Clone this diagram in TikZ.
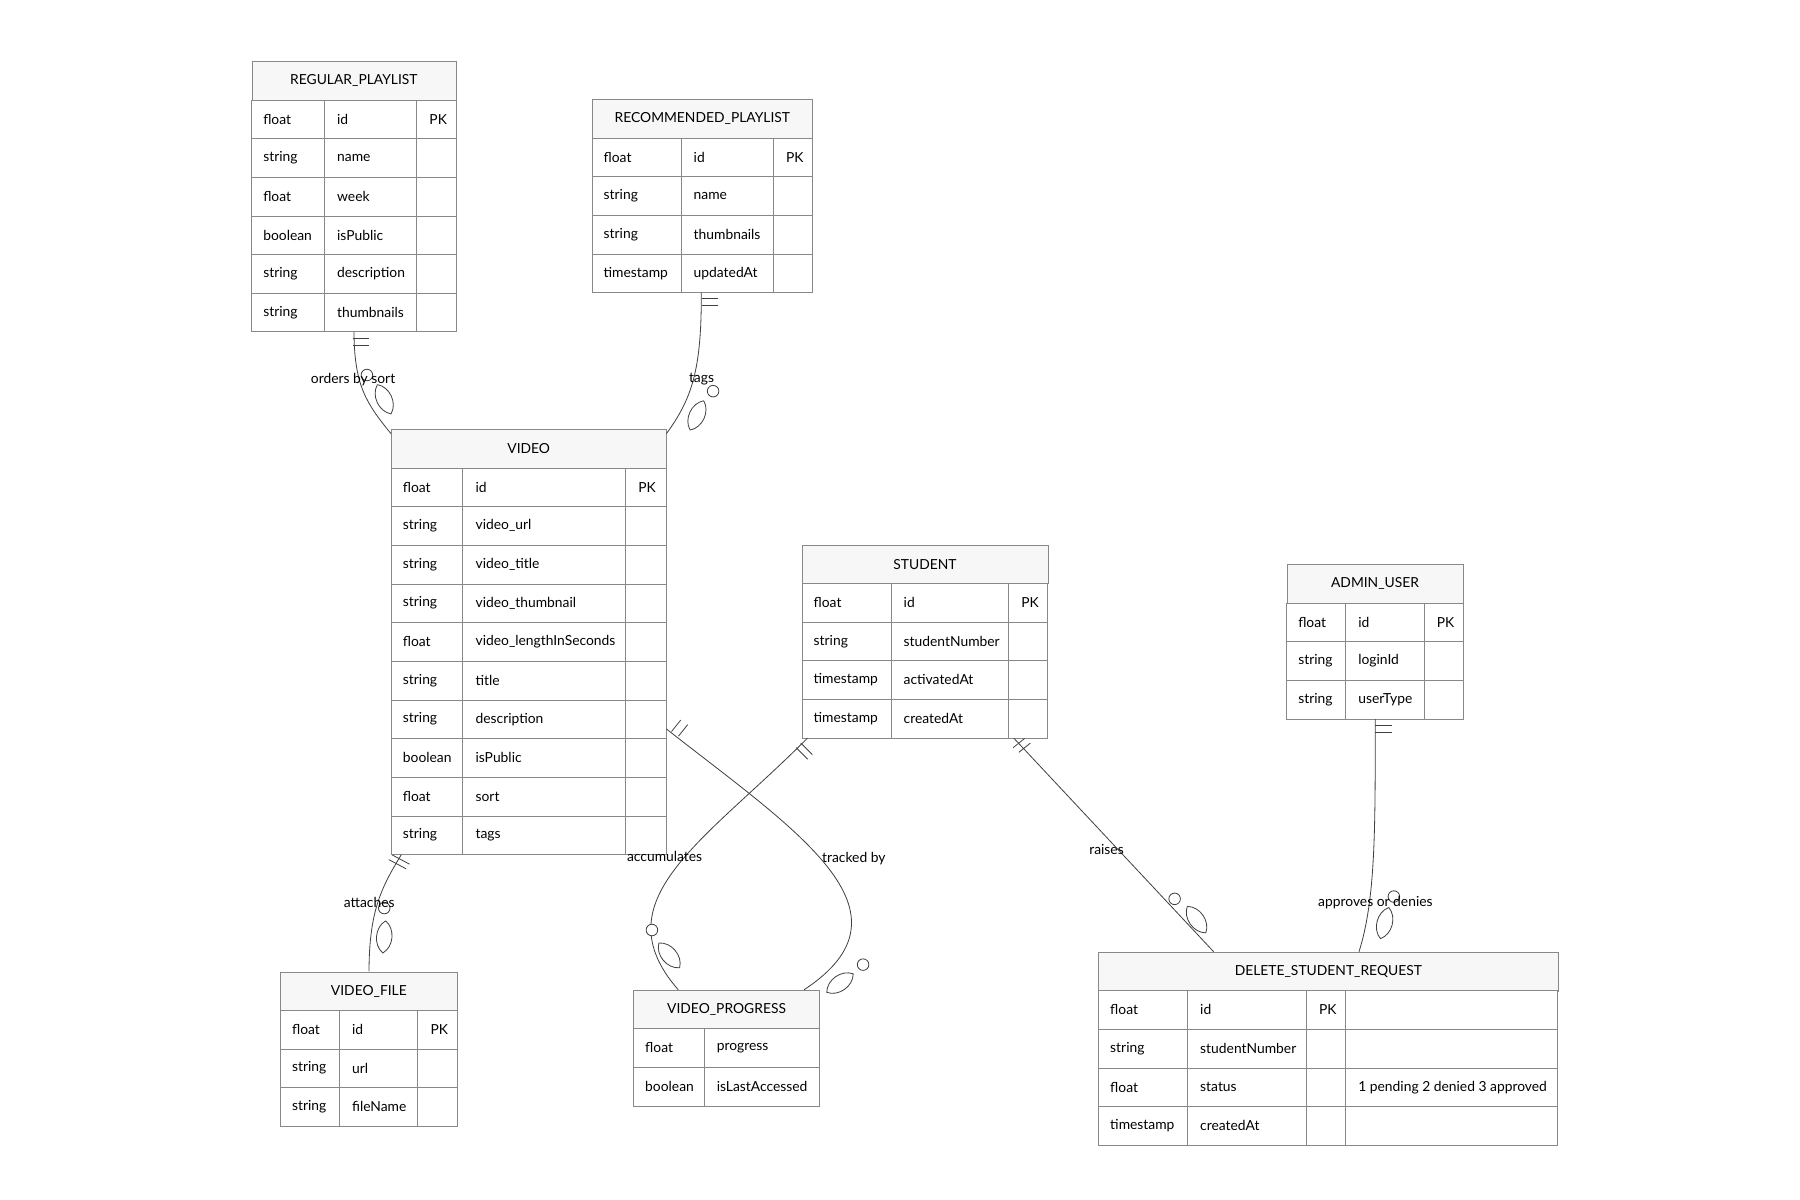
\documentclass[tikz,border=0pt]{standalone}
\usepackage{fontspec}
\setmainfont{Lato}
\usetikzlibrary{calc,fit}
\definecolor{bd}{HTML}{888888}
\tikzset{
  hdr/.style={draw=bd,fill=black!3,inner sep=0,anchor=north west,font=\fontsize{12}{14}\selectfont},
  cell/.style={draw=bd,fill=white},
  txt/.style={anchor=west,inner sep=0,font=\fontsize{12}{14}\selectfont},
  rel/.style={draw=black!75,line width=0.7pt},
  lbl/.style={inner sep=1pt,font=\fontsize{12}{14}\selectfont},
  mk/.style={draw=black!75,line width=0.7pt,fill=white},
}
% #1 name, #2 x-columns x1/x2/x3/x4/x5, #3 top, #4 title, #5 rows
\newcommand\ent[5]{%
  \foreach \xa/\xb/\xc/\xd/\xe in {#2}{%
    \node[hdr,minimum width={(\xe-\xa)*1pt},minimum height=33.5pt] (#1h) at (\xa,#3) {#4};
    \foreach \t/\n/\k/\c [count=\i] in {#5}{%
      \pgfmathsetmacro\ya{#3+33.5*\i}
      \draw[cell] (\xa,\ya) rectangle (\xe,\ya+33.5);
      \draw[bd] (\xb,\ya) -- (\xb,\ya+33.5) (\xc,\ya) -- (\xc,\ya+33.5) (\xd,\ya) -- (\xd,\ya+33.5);
      \node[txt] (#1t\i) at (\xa+10,\ya+16.75) {\t};
      \node[txt] at (\xb+11,\ya+16.75) {\n};
      \node[txt] at (\xc+11,\ya+16.75) {\k};
      \node[txt] at (\xd+11,\ya+16.75) {\c};
      \xdef\lastbot{\ya+33.5}
    }
    \pgfmathsetmacro\yb{\lastbot}
    \coordinate (#1br) at (\xe,\yb);
    \node[fit=(#1h)(#1br),inner sep=0] (#1) {};
  }%
}
\newcommand\lens[3]{\draw[mk,shift={(#1,#2)},rotate=#3] (0,-14) to[bend left=55] (0,14) to[bend left=55] (0,-14);}
\newcommand\ring[2]{\draw[mk] (#1,#2) circle (5);}
\begin{document}
\begin{tikzpicture}[x=1pt,y=-1pt]
\useasboundingbox (0,0) rectangle (1560,1040);
\ent{rp}{218/281/361/395/395}{53}{REGULAR\_PLAYLIST}{float/id/PK/,string/name//,float/week//,boolean/isPublic//,string/description//,string/thumbnails//}
\ent{rec}{513/590/670/704/704}{86}{RECOMMENDED\_PLAYLIST}{float/id/PK/,string/name//,string/thumbnails//,timestamp/updatedAt//}
\ent{vid}{339/401/542/577/577}{372}{VIDEO}{float/id/PK/,string/video\_url//,string/video\_title//,string/video\_thumbnail//,float/video\_lengthInSeconds//,string/title//,string/description//,boolean/isPublic//,float/sort//,string/tags//}
\ent{stu}{695/772/874/908/908}{472}{STUDENT}{float/id/PK/,string/studentNumber//,timestamp/activatedAt//,timestamp/createdAt//}
\ent{adm}{1115/1166/1234/1268/1268}{489}{ADMIN\_USER}{float/id/PK/,string/loginId//,string/userType//}
\ent{vf}{243/294/362/396/396}{842}{VIDEO\_FILE}{float/id/PK/,string/url//,string/fileName//}
\ent{vp}{549/610/710/710/710}{858}{VIDEO\_PROGRESS}{float/progress//,boolean/isLastAccessed//}
\ent{dsr}{952/1029/1132/1166/1350}{825}{DELETE\_STUDENT\_REQUEST}{float/id/PK/,string/studentNumber//,float/status//1 pending 2 denied 3 approved,timestamp/createdAt//}

% connectors
\draw[rel] ($(rp.south west)+(89,0)$) .. controls (307,335) and (318,350) .. ($(vid.north west)+(0,4)$);
\draw[rel] ($(rec.south west)+(95,0)$) .. controls (608,320) and (600,345) .. ($(vid.north east)+(0,4)$);
\draw[rel] ($(vid.south west)+(9,0)$) .. controls (330,770) and (320,790) .. ($(vf.north west)+(77,0)$);
\draw[rel] ($(stu.south west)+(5,0)$) .. controls (610,730) and (520,780) .. ($(vp.north west)+(39,0)$);
\draw[rel] ($(vid.north east)+(0,260)$) .. controls (690,720) and (800,790) .. ($(vp.north west)+(148,0)$);
\draw[rel] ($(stu.south east)+(-30,0)$) -- ($(dsr.north west)+(100,0)$);
\draw[rel] ($(adm.south west)+(77,0)$) .. controls (1192,720) and (1192,780) .. ($(dsr.north west)+(226,0)$);

% one-marks
\draw[rel] (306,293) -- (320,293) (306,299) -- (320,299);
\draw[rel] (608,259) -- (622,259) (608,265) -- (622,265);
\draw[rel] (337,745) -- (352,753) (340,741) -- (355,749);
\draw[rel] (690,648) -- (700,658) (694,644) -- (704,654);
\draw[rel] (582,634) -- (590,624) (588,638) -- (596,628);
\draw[rel] (878,648) -- (888,640) (883,652) -- (893,644);
\draw[rel] (1192,629) -- (1206,629) (1192,635) -- (1206,635);

% many-marks
\ring{318}{325} \lens{333}{346}{25}
\ring{618}{339} \lens{604}{360}{-25}
\ring{333}{787} \lens{333}{812}{-5}
\ring{565}{806} \lens{580}{828}{40}
\ring{748}{836} \lens{728}{852}{-55}
\ring{1018}{779} \lens{1037}{797}{35}
\ring{1208}{777} \lens{1200}{800}{-15}

% labels
\node[lbl] at (306,329) {orders by sort};
\node[lbl] at (608,329) {tags};
\node[lbl] at (320,782) {attaches};
\node[lbl] at (576,742) {accumulates};
\node[lbl] at (740,744) {tracked by};
\node[lbl] at (959,736) {raises};
\node[lbl] at (1192,782) {approves or denies};
\end{tikzpicture}
\end{document}
